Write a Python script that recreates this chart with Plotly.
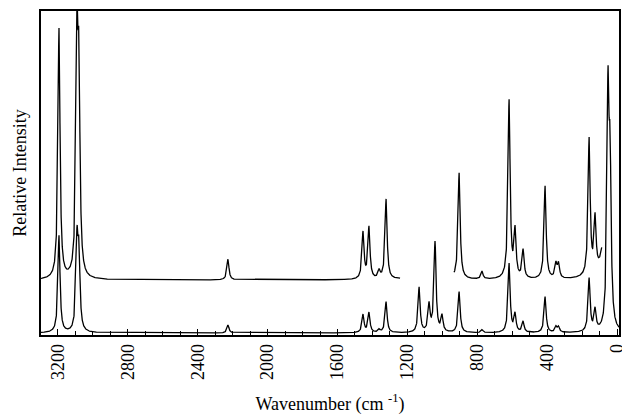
import numpy as np
import plotly.graph_objects as go

# Peak list read from the lower (unscaled) spectrum
peak_centers = [3194, 3091, 3080, 2227, 1454, 1420, 1362, 1322, 1133, 1076,
                1042, 1002, 904, 773, 618, 584, 538, 412, 350, 335, 160, 126, 52, 40]
peak_heights = [97, 86, 71, 8, 18, 20, 3, 31, 45, 27,
                90, 16, 41, 3, 69, 18, 11, 36, 5.5, 5.5, 53, 21, 228, 150]
peak_hwhm = 7.0

# Upper trace: scaled copy of the spectrum, shown only on these windows
upper_scale = 2.58
upper_offset = 55
lower_offset = 2
upper_windows = [(1242, 3297), (88, 933)]

x_range = [3297, -11]
tick_vals = [3200, 2800, 2400, 2000, 1600, 1200, 800, 400, 0]

wn = np.arange(-11, 3300.5, 0.5)
spec = np.zeros_like(wn)
for c, h in zip(peak_centers, peak_heights):
    spec += h * peak_hwhm**2 / ((wn - c) ** 2 + peak_hwhm**2)

lower = spec + lower_offset
upper = spec * upper_scale + upper_offset
mask = np.zeros_like(wn, dtype=bool)
for lo, hi in upper_windows:
    mask |= (wn >= lo) & (wn <= hi)
upper_masked = np.where(mask, upper, np.nan)

fig = go.Figure()
line = dict(color="black", width=1.3)
fig.add_trace(go.Scatter(x=wn, y=lower, mode="lines", line=line, showlegend=False))
fig.add_trace(go.Scatter(x=wn, y=upper_masked, mode="lines", line=line,
                         showlegend=False, connectgaps=False))

font_family = "Liberation Serif, Times New Roman, serif"
fig.update_layout(
    width=622, height=415,
    margin=dict(l=41, r=3, t=11, b=80),
    plot_bgcolor="white", paper_bgcolor="white",
    font=dict(family=font_family, color="black", size=18),
    xaxis=dict(
        range=x_range, tickvals=tick_vals, ticktext=[str(v) for v in tick_vals],
        tickangle=-90, ticks="inside", ticklen=6, tickwidth=1.2, tickcolor="black",
        minor=dict(dtick=100, tick0=0, ticks="inside", ticklen=4, tickwidth=1, tickcolor="black"),
        showline=True, linecolor="black", linewidth=1.5, mirror=True,
        showgrid=False, zeroline=False, ticklabeloverflow="allow", automargin=False,
        tickfont=dict(size=18, family=font_family),
        title=dict(text="Wavenumber (cm <sup>-1</sup>)", font=dict(size=18, family=font_family), standoff=18),
    ),
    yaxis=dict(
        range=[0, 324], showticklabels=False, ticks="",
        showline=True, linecolor="black", linewidth=1.5, mirror=True,
        showgrid=False, zeroline=False, automargin=False,
        title=dict(text="Relative Intensity", font=dict(size=18, family=font_family), standoff=8),
    ),
)

fig.write_html("out.html")
